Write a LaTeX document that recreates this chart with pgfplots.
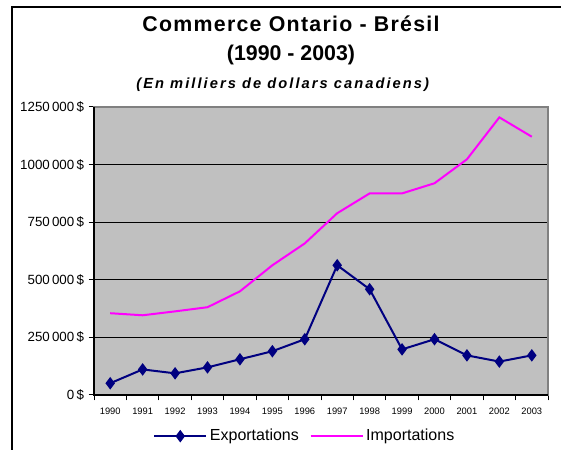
\documentclass[border=0pt]{standalone}
\usepackage{pgfplots}
\pgfplotsset{compat=1.18}
\usepackage{fontspec}
\setmainfont{Liberation Sans}
\definecolor{expcol}{RGB}{0,0,128}
\definecolor{impcol}{RGB}{255,0,255}
\definecolor{bgcol}{RGB}{192,192,192}
\definecolor{bordcol}{RGB}{128,128,128}
\begin{document}
\begin{tikzpicture}
\useasboundingbox (0pt,0pt) rectangle (420.75pt,337.5pt);
\draw[black,line width=1pt] (9pt,0pt) -- (9pt,332.25pt) -- (420.75pt,332.25pt);
\node[font=\bfseries\fontsize{16}{19}\selectfont\addfontfeatures{LetterSpace=6}] at (218.25pt,319.5pt) {Commerce Ontario - Brésil};
\node[font=\bfseries\fontsize{16}{19}\selectfont] at (218.25pt,296.25pt) {(1990 - 2003)};
\node[font=\bfseries\itshape\fontsize{11}{13}\selectfont\addfontfeatures{LetterSpace=14}] at (212pt,273.75pt) {(En milliers de dollars canadiens)};
\begin{axis}[
  at={(70.5pt,41.25pt)}, anchor=south west,
  scale only axis, width=340.5pt, height=216pt,
  xmin=-0.5, xmax=13.5, ymin=0, ymax=1250000,
  axis background/.style={fill=bgcol},
  axis line style={draw=bordcol, line width=1pt},
  xtick={0,...,13},
  xticklabels={1990,1991,1992,1993,1994,1995,1996,1997,1998,1999,2000,2001,2002,2003},
  major x tick style={draw=none},
  minor xtick={-0.5,0.5,...,13.5},
  minor x tick style={black, line width=0.75pt},
  minor tick length=4pt,
  ytick={0,250000,500000,750000,1000000,1250000},
  yticklabels={0\,\$,250\,000\,\$,500\,000\,\$,750\,000\,\$,1000\,000\,\$,1250\,000\,\$},
  major y tick style={black, line width=0.75pt},
  major tick length=4pt,
  tick align=outside, tick pos=left,
  ymajorgrids, grid style={black, line width=0.75pt},
  x tick label style={font=\fontsize{7}{8}\selectfont, yshift=-2pt},
  y tick label style={font=\fontsize{10}{11}\selectfont},
  scaled y ticks=false,
  clip=false,
  legend columns=2,
  legend style={draw=none, fill=none, at={(0.465,-0.1)}, anchor=north,
    font=\fontsize{12}{14}\selectfont, /tikz/every even column/.append style={column sep=6pt}},
  legend image code/.code={\draw[mark repeat=2,mark phase=2,#1] plot coordinates {(0pt,0pt) (19.5pt,0pt) (39pt,0pt)};},
]
\addplot[impcol, line width=1.5pt, forget plot] coordinates {
(0,355000)(1,346000)(2,363000)(3,381000)(4,450000)(5,563000)(6,658000)
(7,789000)(8,875000)(9,875000)(10,919000)(11,1023000)(12,1205000)(13,1121000)};
\addplot[expcol, line width=1.5pt, mark=diamond*, mark size=3.5pt] coordinates {
(0,51000)(1,111000)(2,94000)(3,120000)(4,155000)(5,190000)(6,242000)
(7,563000)(8,459000)(9,198000)(10,242000)(11,172000)(12,145000)(13,172000)};
\addlegendentry{Exportations}
\addlegendimage{impcol, line width=1.5pt}
\addlegendentry{Importations}
\draw[black, line width=1pt] (rel axis cs:0,1) -- (rel axis cs:0,0) -- (rel axis cs:1,0);
\end{axis}
\end{tikzpicture}
\end{document}
